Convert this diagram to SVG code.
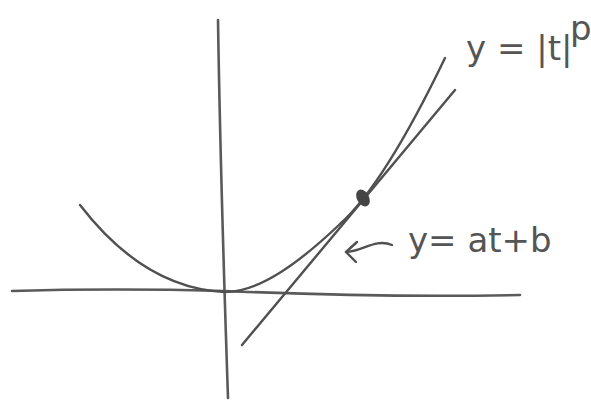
<svg xmlns="http://www.w3.org/2000/svg" width="591" height="400" viewBox="0 0 591 400">
<style>
.ln{fill:none;stroke:#505050;stroke-width:2.4;stroke-linecap:round;stroke-linejoin:round}
.ax{fill:none;stroke:#5a5a5a;stroke-width:2.6;stroke-linecap:round}
.lbl{font-family:"DejaVu Sans",sans-serif;fill:#555;font-size:34px}
</style>
<rect width="591" height="400" fill="#fff"/>
<g id="axes">
<path class="ax" d="M12,291 C80,289 150,289 225,291 C320,295 420,297 520,295"/>
<path class="ax" d="M218,20 C220,150 224,280 228,398" stroke-width="1.8"/>
</g>
<g id="curve">
<path class="ln" d="M80,205 C130,270 180,290 225,292 C260,292 300,262 340,224 C380,188 420,110 445,58"/>
</g>
<g id="tangent">
<path class="ln" d="M242,345 L455,90"/>
<ellipse cx="363" cy="198" rx="6" ry="9" fill="#444" transform="rotate(-30 363 198)"/>
</g>
<g id="connectors">
<path class="ln" d="M392,245 C375,238 362,252 346,252"/>
<path class="ln" d="M357,242 L346,252 L356,262"/>
</g>
<g id="label-curve">
<text class="lbl" x="466" y="60" font-size="32">y = |t|</text>
<text class="lbl" x="570" y="40" font-size="18">p</text>
</g>
<g id="label-line">
<text class="lbl" x="408" y="252">y= at+b</text>
</g>
</svg>
